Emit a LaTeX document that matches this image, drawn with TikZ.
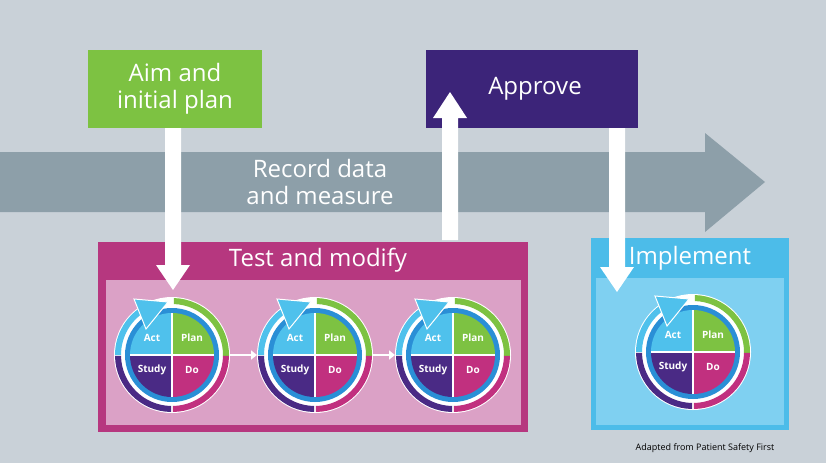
\documentclass[tikz,border=0pt]{standalone}
\usepackage{fontspec}
\usetikzlibrary{arrows.meta}
\setmainfont{Open Sans}
\begin{document}
\begin{tikzpicture}[x=1pt,y=-1pt,
  lbl/.style={text=white,font=\fontsize{24}{27}\selectfont,align=center,inner sep=0},
  ql/.style={text=white,font=\bfseries\fontsize{10}{10}\selectfont,inner sep=0},
  warrow/.style={fill=white}]
\definecolor{bg}{HTML}{C9D1D8}
\definecolor{garrow}{HTML}{8D9FA9}
\definecolor{cgreen}{HTML}{7DC242}
\definecolor{cpurple}{HTML}{3C2479}
\definecolor{cmag}{HTML}{B6377F}
\definecolor{cpink}{HTML}{DBA1C6}
\definecolor{cblue}{HTML}{4CBCE9}
\definecolor{clight}{HTML}{7FD0F1}
\definecolor{qact}{HTML}{4FC1EC}
\definecolor{qstudy}{HTML}{4A2A85}
\definecolor{qdo}{HTML}{C1307F}
\definecolor{ring}{HTML}{2A8FD6}
\fill[bg] (0,0) rectangle (826,463);
\useasboundingbox (0,0) rectangle (826,463);
% big arrow
\fill[garrow] (0,152) -- (705,152) -- (705,133) -- (765,182) -- (705,232) -- (705,212) -- (0,212) -- cycle;
\node[lbl] (rec) at (320,182) {Record data\\and measure};
% boxes
\fill[cgreen] (88,50) rectangle (262,128);
\node[lbl] (aim) at (175,89) {Aim and\\initial plan};
\fill[cpurple] (426,50) rectangle (638,128);
\node[lbl] (app) at (535,89) {Approve};
\fill[cmag] (98,242) rectangle (528,432);
\fill[cpink] (106,280) rectangle (521,425);
\node[lbl] (test) at (318,260) {Test and modify};
\fill[cblue] (591,238) rectangle (789,430);
\fill[clight] (596,278) rectangle (784,425);
\node[lbl] (imp) at (690,258) {Implement};
\node[text=black,font=\fontsize{9}{10}\selectfont,inner sep=0] (src) at (705,448) {Adapted from Patient Safety First};
% white arrows
\fill[warrow] (165,128) -- (181,128) -- (181,265) -- (190,265) -- (173,290) -- (156,265) -- (165,265) -- cycle;
\fill[warrow] (442,240) -- (458,240) -- (458,118) -- (467,118) -- (450,92) -- (433,118) -- (442,118) -- cycle;
\fill[warrow] (609,128) -- (625,128) -- (625,267) -- (634,267) -- (617,292) -- (600,267) -- (609,267) -- cycle;
\newcommand{\pdsacyc}[3]{%
\begin{scope}[shift={(#2,#3)},yscale=-1]
  \fill[white] (0,0) circle (58);
  \fill[qact] (180:57) arc[start angle=180,end angle=118,radius=57] -- (118:51) arc[start angle=118,end angle=180,radius=51] -- cycle;
  \fill[cgreen] (88:57) arc[start angle=88,end angle=-1,radius=57] -- (-1:51) arc[start angle=-1,end angle=88,radius=51] -- cycle;
  \fill[qstudy] (181:57) arc[start angle=181,end angle=269,radius=57] -- (269:51) arc[start angle=269,end angle=181,radius=51] -- cycle;
  \fill[qdo] (271:57) arc[start angle=271,end angle=359,radius=57] -- (359:51) arc[start angle=359,end angle=271,radius=51] -- cycle;
  \fill[ring] (0,0) circle (47);
  \fill[qact] (0,0) -- (180:42) arc[start angle=180,end angle=90,radius=42] -- cycle;
  \fill[cgreen] (0,0) -- (90:42) arc[start angle=90,end angle=0,radius=42] -- cycle;
  \fill[qstudy] (0,0) -- (180:42) arc[start angle=180,end angle=270,radius=42] -- cycle;
  \fill[qdo] (0,0) -- (270:42) arc[start angle=270,end angle=360,radius=42] -- cycle;
  \draw[white,line width=1.2] (-42,0) -- (42,0) (0,-42) -- (0,42);
  \fill[qact,draw=white,line width=1] (-38,56) -- (-4,53) -- (-26,26) -- cycle;
  \node[ql] (#1a) at (-20,17) {Act};
  \node[ql] (#1p) at (20,17) {Plan};
  \node[ql] (#1s) at (-20,-15) {Study};
  \node[ql] (#1d) at (20,-15) {Do};
\end{scope}}
\pdsacyc{c1}{172}{355}
\pdsacyc{c2}{315}{355}
\pdsacyc{c3}{453}{355}
\pdsacyc{c4}{693}{352}
\coordinate (e1) at (230,355); \coordinate (s2) at (257,355);
\coordinate (e2) at (373,355); \coordinate (s3) at (395,355);
\draw[white,line width=2.5,-{Triangle[length=6,width=9]}] (e1) -- (s2);
\draw[white,line width=2.5,-{Triangle[length=6,width=9]}] (e2) -- (s3);
\end{tikzpicture}
\end{document}
